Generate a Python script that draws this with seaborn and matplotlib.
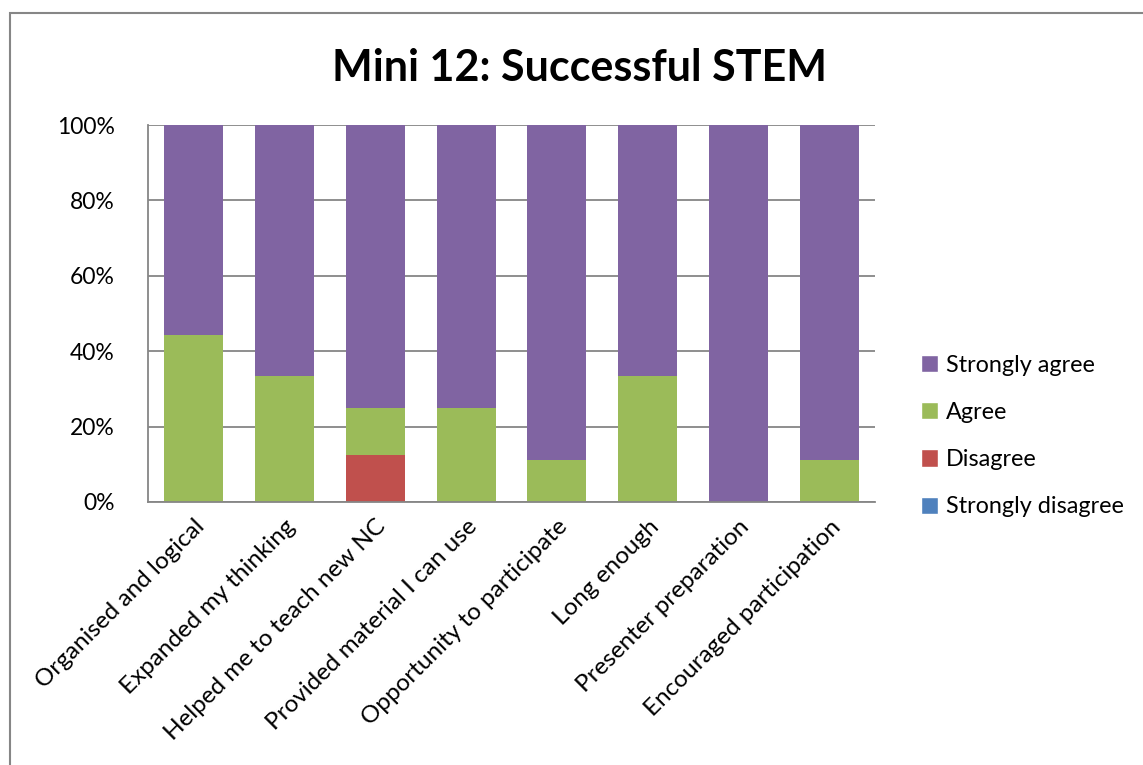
import numpy as np
import pandas as pd
import seaborn as sns
import matplotlib.pyplot as plt
from matplotlib.patches import Rectangle, Patch

# Données du graphique (pourcentages)
categories = [
    "Organised and logical",
    "Expanded my thinking",
    "Helped me to teach new NC",
    "Provided material I can use",
    "Opportunity to participate",
    "Long enough",
    "Presenter preparation",
    "Encouraged participation",
]
strongly_disagree = [0, 0, 0, 0, 0, 0, 0, 0]
disagree = [0, 0, 12.5, 0, 0, 0, 0, 0]
agree = [44.4, 33.3, 12.5, 25.0, 11.1, 33.3, 0, 11.1]
strongly_agree = [55.6, 66.7, 75.0, 75.0, 88.9, 66.7, 100.0, 88.9]

series_names = ["Strongly disagree", "Disagree", "Agree", "Strongly agree"]
series_colors = ["#4F81BD", "#C0504D", "#9BBB59", "#8064A2"]

sns.set_style("white")
plt.rcParams["font.family"] = ["Lato", "DejaVu Sans"]
plt.rcParams["text.color"] = "black"
plt.rcParams["xtick.color"] = "black"
plt.rcParams["ytick.color"] = "black"

fig = plt.figure(figsize=(11.43, 7.65), dpi=100)
ax = fig.add_axes([0.1295, 0.3438, 0.636, 0.4928])

# Empilement: on trace les cumuls du plus haut au plus bas
values = [strongly_disagree, disagree, agree, strongly_agree]
cum = np.cumsum(np.array(values), axis=0)
for i in reversed(range(len(values))):
    df = pd.DataFrame({"cat": categories, "val": cum[i]})
    sns.barplot(data=df, x="cat", y="val", color=series_colors[i],
                width=0.65, saturation=1, linewidth=0, ax=ax, zorder=2)

ax.set_ylim(0, 100)
ax.set_xlim(-0.5, len(categories) - 0.5)
ax.set_yticks([0, 20, 40, 60, 80, 100])
ax.set_yticklabels([f"{v}%" for v in [0, 20, 40, 60, 80, 100]], fontsize=16.5)
ax.tick_params(axis="y", length=0, pad=24)
ax.tick_params(axis="x", length=0, pad=10)
ax.set_xticks(range(len(categories)))
ax.set_xticklabels(categories, rotation=45, ha="right",
                   rotation_mode="anchor", fontsize=17.5)
ax.set_xlabel("")
ax.set_ylabel("")

ax.yaxis.grid(True, color="#868686", linewidth=1.3, zorder=0)
ax.set_axisbelow(True)
for side in ["top", "right"]:
    ax.spines[side].set_visible(False)
for side in ["left", "bottom"]:
    ax.spines[side].set_color("#868686")
    ax.spines[side].set_linewidth(1.3)

fig.suptitle("Mini 12: Successful STEM", x=0.507, y=0.937,
             fontsize=31, fontweight="bold")

# Légende à droite
handles = [Patch(facecolor=series_colors[i]) for i in reversed(range(4))]
labels = list(reversed(series_names))
fig.legend(handles, labels, loc="center left", bbox_to_anchor=(0.787, 0.43),
           frameon=False, fontsize=16.8, handlelength=0.75, handleheight=0.75,
           handletextpad=0.35, labelspacing=1.12)

# Cadre du graphique
fig.patches.append(Rectangle((10 / 1143, -0.05), 1.2, 1.05 - 13 / 765,
                             transform=fig.transFigure, fill=False,
                             edgecolor="#868686", linewidth=1.5))

fig.savefig("out.png", dpi=100)
